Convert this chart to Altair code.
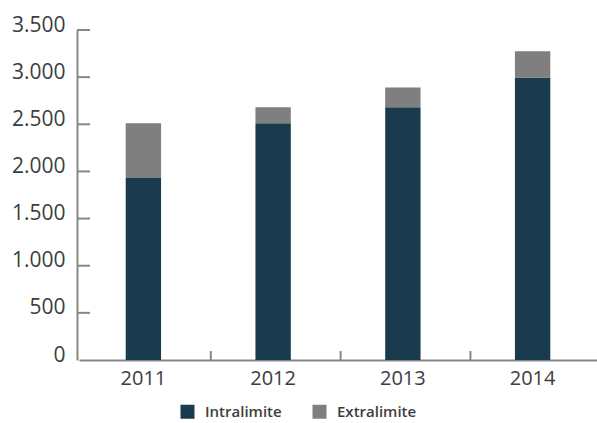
import altair as alt
import pandas as pd

years = ["2011", "2012", "2013", "2014"]
intralimite = [1930, 2510, 2680, 2995]
extralimite = [580, 170, 210, 280]
series = ["Intralimite", "Extralimite"]
colors = ["#1a3a4e", "#7f7f7f"]
y_ticks = [0, 500, 1000, 1500, 2000, 2500, 3000, 3500]
x_boundaries = [1, 2, 3, 4]

rows = []
for i, yr in enumerate(years):
    rows.append({"year": yr, "serie": series[0], "value": intralimite[i], "ord": 0})
    rows.append({"year": yr, "serie": series[1], "value": extralimite[i], "ord": 1})
df = pd.DataFrame(rows)

FONT = "Open Sans"
AXIS_COLOR = "#878787"
TEXT_COLOR = "#3d3d3d"

y_axis = alt.Axis(
    values=y_ticks,
    labelExpr="replace(format(datum.value, ','), ',', '.')",
    ticks=False,
    offset=2,
    labelPadding=12,
    labelOffset=-5,
    labelFontSize=21,
    labelFont=FONT,
    labelColor=TEXT_COLOR,
    domainColor=AXIS_COLOR,
    domainWidth=2,
    grid=False,
    title=None,
)
y_scale = alt.Scale(domain=[0, 3500], nice=False)

bars = alt.Chart(df).mark_bar().encode(
    x=alt.X(
        "year:N",
        sort=years,
        title=None,
        scale=alt.Scale(paddingInner=0.7275, paddingOuter=0.36),
        axis=alt.Axis(
            labelAngle=0,
            ticks=False,
            labelPadding=8,
            labelFontSize=20,
            labelFont=FONT,
            labelColor=TEXT_COLOR,
            domainColor=AXIS_COLOR,
            domainWidth=2,
            grid=False,
        ),
    ),
    y=alt.Y("value:Q", stack="zero", title=None, scale=y_scale, axis=y_axis),
    color=alt.Color(
        "serie:N",
        sort=series,
        scale=alt.Scale(domain=series, range=colors),
        legend=alt.Legend(
            title=None,
            orient="none",
            direction="horizontal",
            legendX=101,
            legendY=374,
            symbolType="square",
            symbolSize=196,
            symbolStrokeWidth=0,
            labelFont=FONT,
            labelFontSize=15,
            labelFontWeight=600,
            labelColor=TEXT_COLOR,
            labelOffset=10,
            columnPadding=30,
            padding=0,
        ),
    ),
    order=alt.Order("ord:Q", sort="ascending"),
)

ytick_df = pd.DataFrame({"yt": y_ticks[1:]})
yticks = alt.Chart(ytick_df).mark_rule(color=AXIS_COLOR, strokeWidth=2).encode(
    y=alt.Y("yt:Q", title=None, scale=y_scale, axis=y_axis),
    x=alt.value(-2),
    x2=alt.value(11),
)

xtick_df = pd.DataFrame({"xt": x_boundaries})
xticks = alt.Chart(xtick_df).mark_rule(color=AXIS_COLOR, strokeWidth=2).encode(
    x=alt.X("xt:Q", axis=None, scale=alt.Scale(domain=[-0.0154, 3.975], nice=False, zero=False)),
    y=alt.value(330),
    y2=alt.value(321),
)

chart = (
    alt.layer(bars, yticks, xticks)
    .resolve_scale(x="independent")
    .properties(
        width=518,
        height=330,
        autosize=alt.AutoSizeParams(type="none"),
        padding={"left": 79, "top": 30, "right": 0, "bottom": 63},
        background="white",
    )
    .configure_view(stroke=None)
)

chart.save("out.html", embed_options={"renderer": "svg", "actions": False})
